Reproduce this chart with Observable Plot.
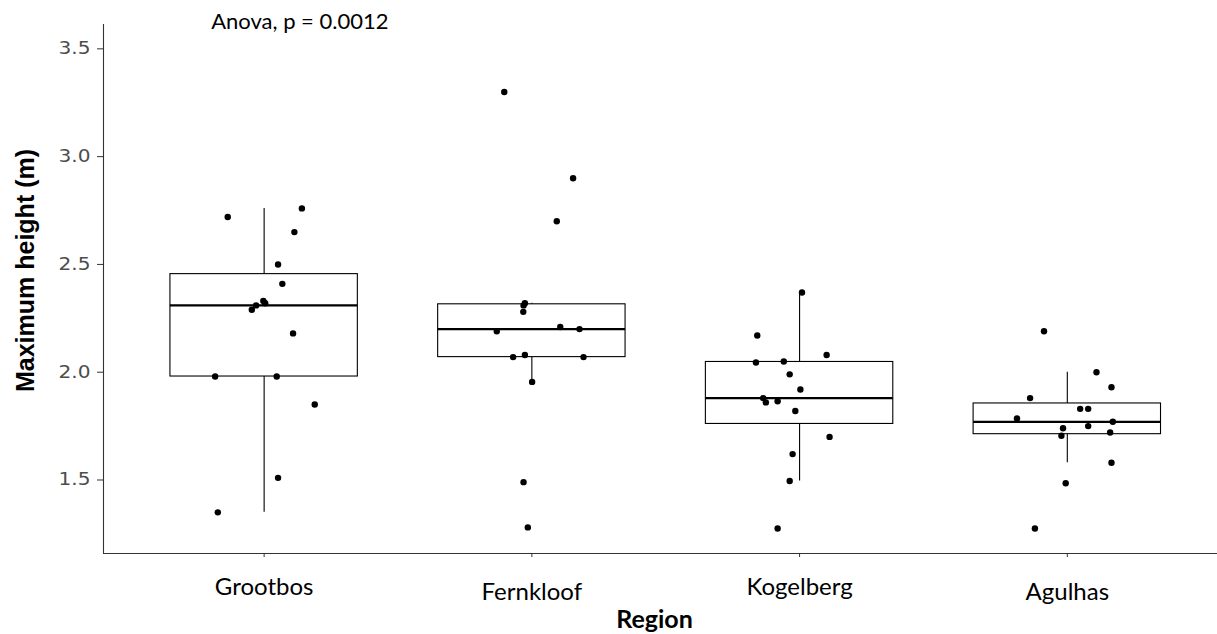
<!DOCTYPE html>
<html>
<head>
<meta charset="utf-8">
<script src="https://cdn.jsdelivr.net/npm/d3@7"></script>
<script src="https://cdn.jsdelivr.net/npm/@observablehq/plot@0.6"></script>
<style>
  html, body { margin: 0; padding: 0; background: #ffffff; }
  #chart svg { display: block; }
</style>
</head>
<body>
<div id="chart"></div>
<script>
// ---- data ----
const regions = ["Grootbos", "Fernkloof", "Kogelberg", "Agulhas"];
const yTicks = [1.5, 2.0, 2.5, 3.0, 3.5];
const anovaP = "0.0012";

const grootbosHeight = [2.72, 2.76, 2.65, 2.50, 2.41, 2.33, 2.32, 2.31, 2.29, 2.18, 1.98, 1.98, 1.85, 1.51, 1.35];
const grootbosJitter = [-0.136, 0.141, 0.113, 0.052, 0.068, -0.003, 0.004, -0.030, -0.046, 0.108, -0.183, 0.047, 0.189, 0.052, -0.173];

const fernkloofHeight = [3.30, 2.90, 2.70, 2.32, 2.31, 2.28, 2.19, 2.21, 2.20, 2.07, 2.08, 2.07, 1.955, 1.49, 1.28];
const fernkloofJitter = [-0.103, 0.154, 0.093, -0.026, -0.031, -0.032, -0.131, 0.106, 0.178, -0.070, -0.026, 0.193, 0.001, -0.031, -0.015];

const kogelbergHeight = [2.37, 2.17, 2.08, 2.045, 2.05, 1.99, 1.92, 1.88, 1.86, 1.865, 1.82, 1.70, 1.62, 1.495, 1.275];
const kogelbergJitter = [0.009, -0.158, 0.101, -0.163, -0.059, -0.037, 0.003, -0.136, -0.126, -0.082, -0.016, 0.112, -0.026, -0.037, -0.082];

const agulhasHeight = [2.19, 2.00, 1.93, 1.88, 1.83, 1.83, 1.785, 1.77, 1.75, 1.74, 1.705, 1.72, 1.58, 1.485, 1.275];
const agulhasJitter = [-0.087, 0.109, 0.165, -0.139, 0.048, 0.078, -0.188, 0.170, 0.078, -0.016, -0.022, 0.160, 0.165, -0.006, -0.121];

// ---- build tables ----
const heights = [grootbosHeight, fernkloofHeight, kogelbergHeight, agulhasHeight];
const jitters = [grootbosJitter, fernkloofJitter, kogelbergJitter, agulhasJitter];

const points = [];
heights.forEach((vals, k) => vals.forEach((v, j) => points.push({region: regions[k], i: k + 1, v, jit: jitters[k][j]})));

const stats = heights.map((vals, k) => {
  const s = vals.slice().sort(d3.ascending);
  const q1 = d3.quantile(s, 0.25), med = d3.quantile(s, 0.5), q3 = d3.quantile(s, 0.75);
  const iqr = q3 - q1;
  const lo = d3.min(s.filter(d => d >= q1 - 1.5 * iqr));
  const hi = d3.max(s.filter(d => d <= q3 + 1.5 * iqr));
  return {region: regions[k], i: k + 1, q1, med, q3, lo, hi};
});

const halfBox = 0.35;
const calibriLike = "Lato, 'Open Sans', sans-serif";

const chart = Plot.plot({
  width: 1217,
  height: 634,
  marginLeft: 103,
  marginRight: 0,
  marginTop: 24,
  marginBottom: 81,
  style: {background: "#ffffff", overflow: "visible"},
  x: {type: "linear", domain: [0.4, 4.561]},
  y: {domain: [1.159, 3.613]},
  marks: [
    // axis lines
    Plot.ruleX([0.4], {stroke: "#333", strokeWidth: 1.1}),
    Plot.ruleY([1.159], {stroke: "#333", strokeWidth: 1.1}),
    // y axis
    Plot.axisY({
      ticks: yTicks, tickFormat: d => d.toFixed(1), tickSize: 6, tickPadding: 7,
      label: null, stroke: "#333", fill: "#4d4d4d",
      fontFamily: "'DejaVu Sans', sans-serif", fontSize: 17
    }),
    // x axis (labels sit at slightly different heights in the reference)
    Plot.axisX({
      ticks: [1, 3], tickFormat: i => regions[i - 1], tickSize: 4, tickPadding: 20,
      label: null, stroke: "#333", fill: "#000",
      fontFamily: calibriLike, fontSize: 24
    }),
    Plot.axisX({
      ticks: [2, 4], tickFormat: i => regions[i - 1], tickSize: 4, tickPadding: 25,
      label: null, stroke: "#333", fill: "#000",
      fontFamily: calibriLike, fontSize: 24
    }),
    // whiskers
    Plot.ruleX(stats, {x: "i", y1: "lo", y2: "q1", stroke: "#000", strokeWidth: 1.1}),
    Plot.ruleX(stats, {x: "i", y1: "q3", y2: "hi", stroke: "#000", strokeWidth: 1.1}),
    // boxes
    Plot.rect(stats, {x1: d => d.i - halfBox, x2: d => d.i + halfBox, y1: "q1", y2: "q3", fill: "#fff", stroke: "#000", strokeWidth: 1.1}),
    // medians
    Plot.ruleY(stats, {y: "med", x1: d => d.i - halfBox, x2: d => d.i + halfBox, stroke: "#000", strokeWidth: 2.2}),
    // jittered points
    Plot.dot(points, {x: d => d.i + d.jit, y: "v", r: 3.2, fill: "#000", stroke: "none"}),
    // annotation
    Plot.text([`Anova, p = ${anovaP}`], {
      frameAnchor: "top-left", lineAnchor: "middle", dx: 107.7, dy: -2.7, textAnchor: "start",
      fontFamily: calibriLike, fontSize: 22, fill: "#000"
    }),
    // axis titles
    Plot.text(["Maximum height (m)"], {
      frameAnchor: "left", lineAnchor: "middle", rotate: -90, dx: -78, dy: -18.5, textAnchor: "middle",
      fontFamily: "'Liberation Sans', Arial, sans-serif", fontWeight: "bold", fontSize: 25, fill: "#000"
    }),
    Plot.text(["Region"], {
      frameAnchor: "bottom", lineAnchor: "middle", dx: -6, dy: 66, textAnchor: "middle",
      fontFamily: calibriLike, fontWeight: "bold", fontSize: 25, fill: "#000"
    })
  ]
});

// widen the y tick labels like the reference's stretched digits
d3.select(chart).selectAll("g[aria-label='y-axis tick label'] text")
  .attr("textLength", 32)
  .attr("lengthAdjust", "spacingAndGlyphs");

document.getElementById("chart").appendChild(chart);
</script>
</body>
</html>
